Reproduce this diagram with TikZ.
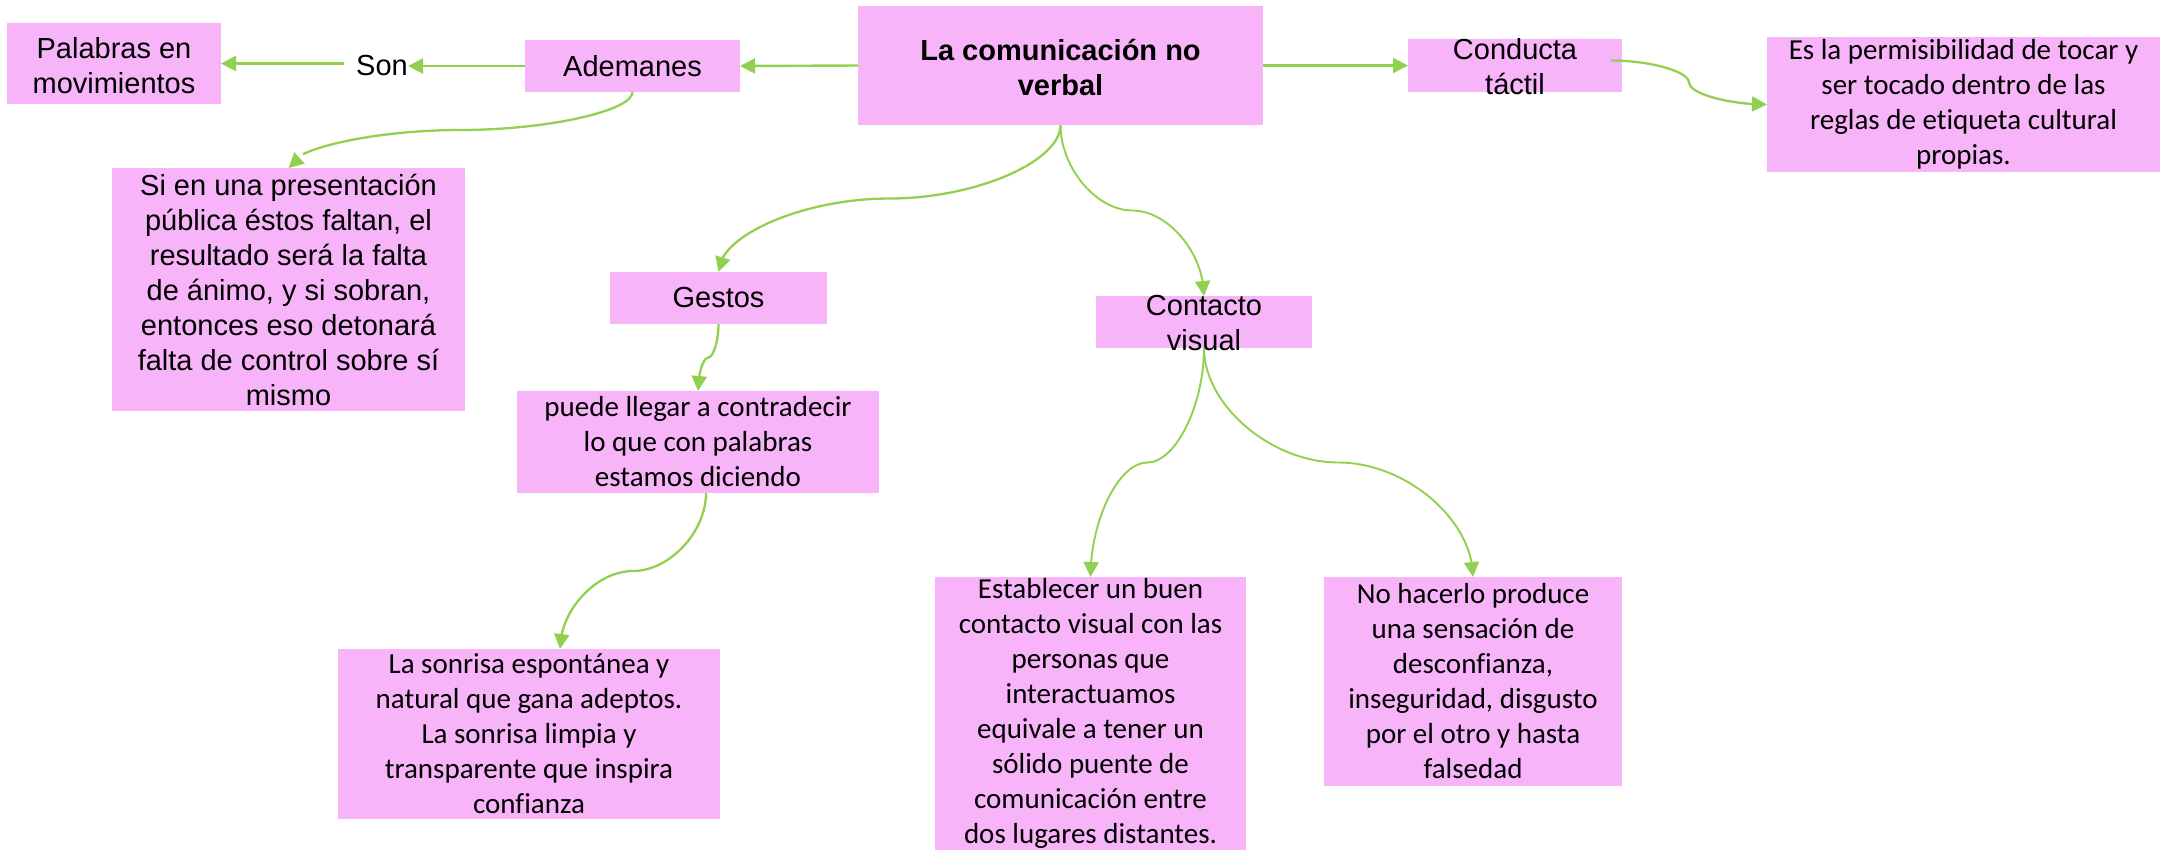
\documentclass[tikz,border=0pt]{standalone}
\usepackage{fontspec}
\setmainfont{Liberation Sans}
\newfontfamily\calfont[Ligatures={NoCommon,NoRare,NoDiscretionary}]{Carlito}
\usetikzlibrary{arrows.meta,bending,calc}
\definecolor{boxpink}{RGB}{248,180,248}
\definecolor{lgreen}{RGB}{146,208,80}
\tikzset{
  box/.style={fill=boxpink, draw=none, inner sep=0pt, outer sep=0pt},
  txt/.style={align=center, inner sep=0pt, font=\fontsize{29}{35}\selectfont},
  ctxt/.style={align=center, inner sep=0pt, font=\calfont\fontsize{29}{35}\selectfont},
  arr/.style={draw=lgreen, line width=2.4pt, -{Triangle[length=15pt,width=15pt]}},
  carr/.style={draw=lgreen, line width=2.3pt, -{Triangle[length=15pt,width=15pt]}},
  tarr/.style={draw=lgreen, line width=1.9pt, -{Triangle[length=15pt,width=15pt]}},
  vcurve/.style={to path={let \p1=(\tikztostart), \p2=(\tikztotarget) in
    .. controls ({\x1},{(3*\y1+\y2)/4}) and ({(3*\x1+\x2)/4},{(\y1+\y2)/2}) .. ({(\x1+\x2)/2},{(\y1+\y2)/2})
    .. controls ({(\x1+3*\x2)/4},{(\y1+\y2)/2}) and ({\x2},{(\y1+3*\y2)/4}) .. (\tikztotarget)}},
  hcurve/.style={to path={let \p1=(\tikztostart), \p2=(\tikztotarget) in
    .. controls ({(3*\x1+\x2)/4},{\y1}) and ({(\x1+\x2)/2},{(3*\y1+\y2)/4}) .. ({(\x1+\x2)/2},{(\y1+\y2)/2})
    .. controls ({(\x1+\x2)/2},{(\y1+3*\y2)/4}) and ({(\x1+3*\x2)/4},{\y2}) .. (\tikztotarget)}}
}
\begin{document}
\begin{tikzpicture}[x=1pt,y=-1pt]
\useasboundingbox (0,0) rectangle (2166,852);
% boxes
\node[box, minimum width=214pt, minimum height=81pt]  (pal)  at (114,63.5) {};
\node[box, minimum width=215pt, minimum height=52pt]  (ade)  at (632.5,66) {};
\node[box, minimum width=405pt, minimum height=119pt] (main) at (1060.5,65.5) {};
\node[box, minimum width=214pt, minimum height=53pt]  (con)  at (1515,65.5) {};
\node[box, minimum width=393pt, minimum height=135pt] (es)   at (1963.5,104.5) {};
\node[box, minimum width=353pt, minimum height=243pt] (si)   at (288.5,289.5) {};
\node[box, minimum width=217pt, minimum height=52pt]  (ges)  at (718.5,298) {};
\node[box, minimum width=216pt, minimum height=52pt]  (cv)   at (1204,322) {};
\node[box, minimum width=362pt, minimum height=102pt] (pue)  at (698,442) {};
\node[box, minimum width=382pt, minimum height=170pt] (sonr) at (529,734) {};
\node[box, minimum width=311pt, minimum height=273pt] (est)  at (1090.5,713.5) {};
\node[box, minimum width=298pt, minimum height=209pt] (no)   at (1473,681.5) {};
\node[txt] (sonlbl) at (382,66) {Son};
\coordinate (s1) at ([xshift=-12pt]sonlbl.west);
% connectors
\draw[arr] (main.west) -- (ade.east);
\draw[arr] (ade.west) -- (sonlbl.east);
\draw[arr] (pal.east -| s1) -- (pal.east);
\draw[arr] (main.east) -- (con.west);
\draw[carr] ([xshift=-11pt,yshift=5pt]con.east) to[hcurve] (es.west);
\draw[carr] (ade.south) to[vcurve] (si.north);
\draw[carr] (main.south) to[vcurve] (ges.north);
\draw[tarr] (main.south) to[vcurve] (cv.north);
\draw[carr] (ges.south) to[vcurve] (pue.north);
\draw[carr] ([xshift=8pt]pue.south) to[vcurve] ([xshift=31pt]sonr.north);
\draw[tarr] (cv.south) to[vcurve] (est.north);
\draw[tarr] (cv.south) to[vcurve] (no.north);
% texts
\node[txt] (palT) at ([yshift=-2pt]pal.center) {Palabras en\\movimientos};
\node[txt] (adeT) at (ade.center) {Ademanes};
\node[txt, font=\bfseries\fontsize{29}{35}\selectfont] (mainT) at ([yshift=-2pt]main.center) {La comunicación no\\verbal};
\node[txt] (conT) at ([yshift=-1pt]con.center) {Conducta\\táctil};
\node[ctxt] (esT) at (es.center) {Es la permisibilidad de tocar y\\ser tocado dentro de las\\reglas de etiqueta cultural\\propias.};
\node[txt] (siT) at (si.center) {Si en una presentación\\pública éstos faltan, el\\resultado será la falta\\de ánimo, y si sobran,\\entonces eso detonará\\falta de control sobre sí\\mismo};
\node[txt] (gesT) at (ges.center) {Gestos};
\node[txt] (cvT) at ([yshift=-1pt]cv.center) {Contacto\\visual};
\node[ctxt] (pueT) at (pue.center) {puede llegar a contradecir\\lo que con palabras\\estamos diciendo};
\node[ctxt] (sonrT) at (sonr.center) {La sonrisa espontánea y\\natural que gana adeptos.\\La sonrisa limpia y\\transparente que inspira\\confianza};
\node[ctxt] (estT) at (est.center) {Establecer un buen\\contacto visual con las\\personas que\\interactuamos\\equivale a tener un\\sólido puente de\\comunicación entre\\dos lugares distantes.};
\node[ctxt] (noT) at (no.center) {No hacerlo produce\\una sensación de\\desconfianza,\\inseguridad, disgusto\\por el otro y hasta\\falsedad};
\end{tikzpicture}
\end{document}
